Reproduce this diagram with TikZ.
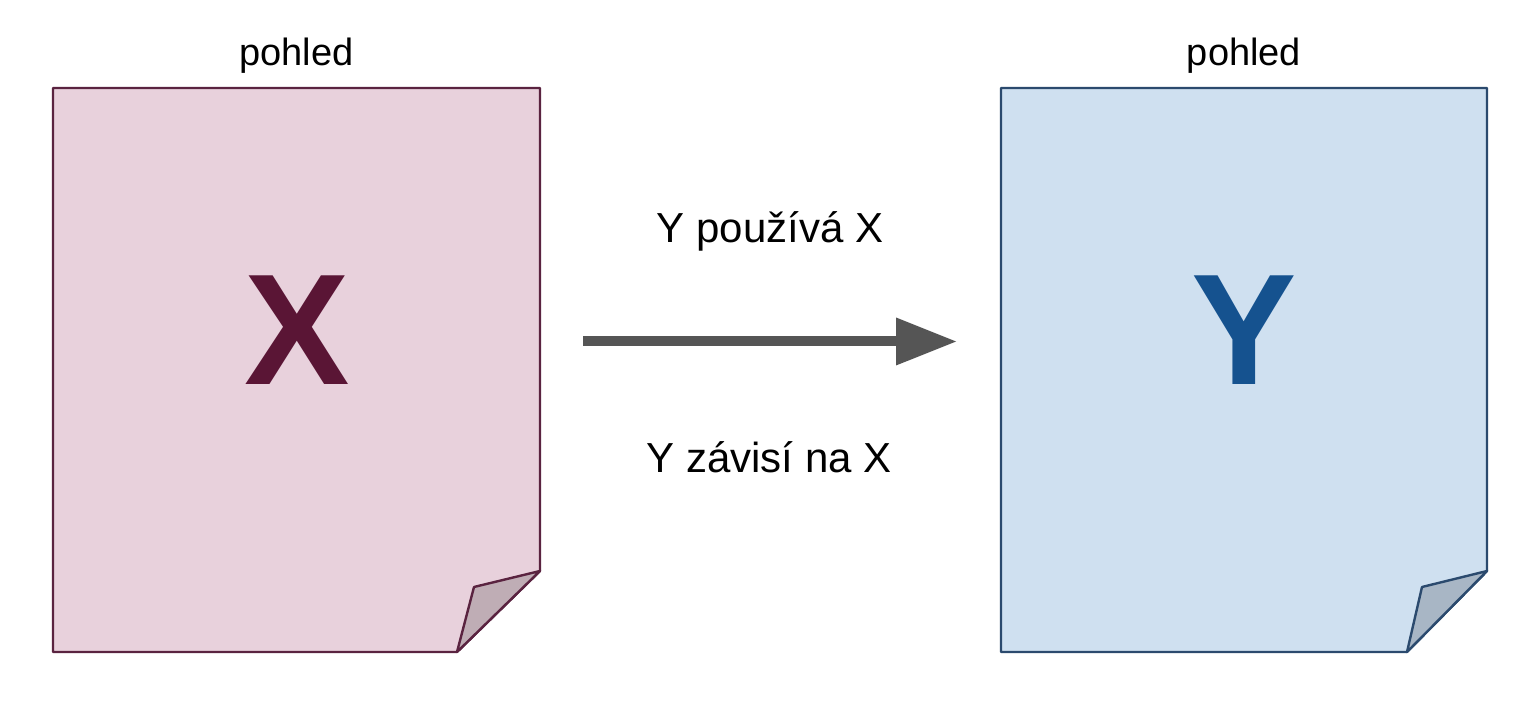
\documentclass[tikz,border=0pt]{standalone}
\usepackage{fontspec}
\setmainfont{Liberation Sans}
\usetikzlibrary{arrows.meta}
\definecolor{pinkfill}{HTML}{E8D1DC}
\definecolor{pinkline}{HTML}{5A2340}
\definecolor{pinkfold}{HTML}{BFADB5}
\definecolor{xcol}{HTML}{5A1535}
\definecolor{bluefill}{HTML}{CFE0F0}
\definecolor{blueline}{HTML}{2B4A6E}
\definecolor{bluefold}{HTML}{A8B6C5}
\definecolor{ycol}{HTML}{15528F}
\definecolor{arrowcol}{HTML}{555555}
\tikzset{
  pageshape/.style={line width=1.2pt, line join=round},
  label/.style={anchor=base, inner sep=0pt, font=\fontsize{19pt}{21pt}\selectfont},
  caption/.style={anchor=base, inner sep=0pt, font=\fontsize{21pt}{24pt}\selectfont},
  bigletter/.style={anchor=base, inner sep=0pt, font=\fontsize{79pt}{81pt}\selectfont\bfseries},
  relarrow/.style={line width=5pt, draw=arrowcol, -{Triangle[length=30.5pt,width=22.5pt]}, fill=arrowcol}
}
\begin{document}
\begin{tikzpicture}[x=0.5pt,y=-0.5pt]
\useasboundingbox[fill=white] (0,0) rectangle (1531,704);
% left page
\coordinate (lnw) at (53,88);
\coordinate (lne) at (540,88);
\coordinate (lfr) at (540,571);
\coordinate (lfb) at (457,652);
\coordinate (lfi) at (474,587);
\coordinate (lsw) at (53,652);
\filldraw[pageshape, fill=pinkfill, draw=pinkline] (lnw) -- (lne) -- (lfr) -- (lfb) -- (lsw) -- cycle;
\filldraw[pageshape, fill=pinkfold, draw=pinkline] (lfr) -- (lfi) -- (lfb) -- cycle;
% right page
\coordinate (rnw) at (1001,88);
\coordinate (rne) at (1487,88);
\coordinate (rfr) at (1487,571);
\coordinate (rfb) at (1407,652);
\coordinate (rfi) at (1422,587);
\coordinate (rsw) at (1001,652);
\filldraw[pageshape, fill=bluefill, draw=blueline] (rnw) -- (rne) -- (rfr) -- (rfb) -- (rsw) -- cycle;
\filldraw[pageshape, fill=bluefold, draw=blueline] (rfr) -- (rfi) -- (rfb) -- cycle;
% labels
\node[label] (lview) at (296.5,66) {pohled};
\node[label] (rview) at (1244,66) {pohled};
\node[bigletter, text=xcol] (xl) at (297.5,385) {X};
\node[bigletter, text=ycol] (yl) at (1244.5,385) {Y};
\node[caption] (uses) at (770,243) {Y používá X};
\node[caption] (deps) at (769,473) {Y závisí na X};
% arrow
\coordinate (as) at (583,341.5);
\coordinate (ae) at (957,341.5);
\draw[relarrow] (as) -- (ae);
\end{tikzpicture}
\end{document}
